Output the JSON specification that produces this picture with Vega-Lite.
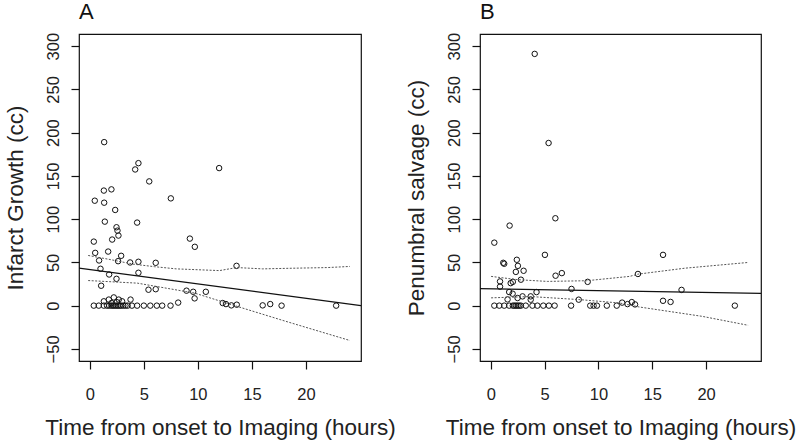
{
  "$schema": "https://vega.github.io/schema/vega-lite/v6.json",
  "background": "white",
  "padding": {"left": 3, "top": 0, "right": 5, "bottom": 5},
  "spacing": 119,
  "bounds": "flush",
  "datasets": {
    "a_pts": [
      {"x": 1.33, "y": 189}, {"x": 4.5, "y": 164.7}, {"x": 4.2, "y": 157.4}, {"x": 11.97, "y": 159},
      {"x": 5.5, "y": 143.6}, {"x": 1.3, "y": 133}, {"x": 2.0, "y": 134.4}, {"x": 7.5, "y": 124},
      {"x": 0.46, "y": 121.3}, {"x": 1.33, "y": 119}, {"x": 2.35, "y": 110.6}, {"x": 1.39, "y": 97.1},
      {"x": 4.38, "y": 96}, {"x": 2.47, "y": 90.6}, {"x": 2.56, "y": 86.7}, {"x": 2.65, "y": 81},
      {"x": 2.07, "y": 76.4}, {"x": 0.37, "y": 74}, {"x": 9.26, "y": 77.5}, {"x": 9.72, "y": 68},
      {"x": 0.5, "y": 61}, {"x": 1.7, "y": 62.5}, {"x": 2.9, "y": 57.6}, {"x": 0.86, "y": 52.2},
      {"x": 2.62, "y": 51.4}, {"x": 3.73, "y": 49.9}, {"x": 4.5, "y": 50.7}, {"x": 6.1, "y": 49.5},
      {"x": 0.99, "y": 42.6}, {"x": 4.5, "y": 38}, {"x": 1.79, "y": 36}, {"x": 2.47, "y": 31},
      {"x": 13.58, "y": 46}, {"x": 1.05, "y": 23}, {"x": 5.43, "y": 18.4}, {"x": 6.1, "y": 19},
      {"x": 8.95, "y": 17.3}, {"x": 9.57, "y": 16}, {"x": 10.74, "y": 16}, {"x": 9.7, "y": 8.4},
      {"x": 8.18, "y": 3.5}, {"x": 12.3, "y": 3}, {"x": 12.6, "y": 1.8}, {"x": 13.1, "y": 0.3},
      {"x": 13.6, "y": 1.1}, {"x": 16.0, "y": 0.3}, {"x": 16.7, "y": 1.8}, {"x": 17.75, "y": 0},
      {"x": 22.8, "y": 0},
      {"x": 1.3, "y": 5}, {"x": 1.76, "y": 7}, {"x": 2.22, "y": 9.5}, {"x": 2.68, "y": 7},
      {"x": 2.99, "y": 5}, {"x": 3.77, "y": 7}, {"x": 2.0, "y": 3}, {"x": 2.5, "y": 4},
      {"x": 0.37, "y": 0}, {"x": 0.83, "y": 0}, {"x": 1.3, "y": 0}, {"x": 1.6, "y": 0},
      {"x": 1.8, "y": 0}, {"x": 2.0, "y": 0}, {"x": 2.15, "y": 0}, {"x": 2.3, "y": 0},
      {"x": 2.45, "y": 0}, {"x": 2.6, "y": 0}, {"x": 2.75, "y": 0}, {"x": 2.9, "y": 0},
      {"x": 3.1, "y": 0}, {"x": 3.3, "y": 0}, {"x": 3.5, "y": 0}, {"x": 3.9, "y": 0},
      {"x": 4.38, "y": 0}, {"x": 5.0, "y": 0}, {"x": 5.6, "y": 0}, {"x": 6.2, "y": 0},
      {"x": 6.7, "y": 0}, {"x": 7.47, "y": 0}
    ],
    "b_pts": [
      {"x": 4.08, "y": 291}, {"x": 5.37, "y": 188}, {"x": 6.0, "y": 101}, {"x": 1.75, "y": 92.5},
      {"x": 0.33, "y": 72.8}, {"x": 5.03, "y": 58.7}, {"x": 16.0, "y": 58.7}, {"x": 1.16, "y": 49.5},
      {"x": 1.25, "y": 48.4}, {"x": 2.42, "y": 53}, {"x": 2.52, "y": 46}, {"x": 2.33, "y": 39},
      {"x": 3.05, "y": 40.3}, {"x": 6.6, "y": 37.6}, {"x": 6.02, "y": 34.6}, {"x": 13.67, "y": 36.6},
      {"x": 2.8, "y": 30}, {"x": 2.05, "y": 27.5}, {"x": 1.85, "y": 26}, {"x": 0.86, "y": 28},
      {"x": 0.86, "y": 22}, {"x": 9.0, "y": 27.5}, {"x": 7.5, "y": 19.3}, {"x": 17.72, "y": 18.2},
      {"x": 4.25, "y": 15.7}, {"x": 1.71, "y": 15.7}, {"x": 2.03, "y": 13.8}, {"x": 2.95, "y": 10.7},
      {"x": 3.71, "y": 10.7}, {"x": 3.71, "y": 6.9}, {"x": 1.56, "y": 7.2}, {"x": 2.49, "y": 8.8},
      {"x": 8.17, "y": 6.9}, {"x": 16.0, "y": 5.6}, {"x": 16.7, "y": 4.3}, {"x": 12.2, "y": 3.5},
      {"x": 12.7, "y": 1.8}, {"x": 13.1, "y": 4.1}, {"x": 13.4, "y": 1.4},
      {"x": 0.33, "y": 0}, {"x": 0.79, "y": 0}, {"x": 1.25, "y": 0}, {"x": 1.71, "y": 0},
      {"x": 2.05, "y": 0}, {"x": 2.2, "y": 0}, {"x": 2.35, "y": 0}, {"x": 2.5, "y": 0},
      {"x": 2.65, "y": 0}, {"x": 2.8, "y": 0}, {"x": 3.25, "y": 0}, {"x": 3.87, "y": 0},
      {"x": 4.33, "y": 0}, {"x": 4.88, "y": 0}, {"x": 5.4, "y": 0}, {"x": 5.93, "y": 0},
      {"x": 7.46, "y": 0}, {"x": 9.24, "y": 0}, {"x": 9.55, "y": 0}, {"x": 9.86, "y": 0},
      {"x": 10.78, "y": 0}, {"x": 11.7, "y": 0}, {"x": 22.67, "y": 0}
    ],
    "a_fit": [{"x": -1, "y": 43.3}, {"x": 25.1, "y": 0}],
    "b_fit": [{"x": -1, "y": 19.6}, {"x": 25.1, "y": 14.2}],
    "a_ci": [
      {"band": "upper", "x": -0.15, "y": 58}, {"band": "upper", "x": 2, "y": 53}, {"band": "upper", "x": 4, "y": 48},
      {"band": "upper", "x": 6, "y": 45}, {"band": "upper", "x": 8, "y": 42.5}, {"band": "upper", "x": 10, "y": 41.5},
      {"band": "upper", "x": 12, "y": 40.5}, {"band": "upper", "x": 13.6, "y": 44}, {"band": "upper", "x": 16, "y": 42.5},
      {"band": "upper", "x": 19, "y": 43.3}, {"band": "upper", "x": 22, "y": 44}, {"band": "upper", "x": 24.07, "y": 45.3},
      {"band": "lower", "x": -0.15, "y": 29}, {"band": "lower", "x": 4.4, "y": 26}, {"band": "lower", "x": 9.7, "y": 14.5},
      {"band": "lower", "x": 13.8, "y": -1.5}, {"band": "lower", "x": 18.1, "y": -18}, {"band": "lower", "x": 24.07, "y": -40.3}
    ],
    "b_ci": [
      {"band": "upper", "x": 0.03, "y": 33.8}, {"band": "upper", "x": 2.5, "y": 30}, {"band": "upper", "x": 5.25, "y": 28},
      {"band": "upper", "x": 8.9, "y": 28.8}, {"band": "upper", "x": 12.9, "y": 33.8}, {"band": "upper", "x": 13.67, "y": 36.4},
      {"band": "upper", "x": 18.05, "y": 43.3}, {"band": "upper", "x": 23.9, "y": 49.9},
      {"band": "lower", "x": 0.03, "y": 9}, {"band": "lower", "x": 3.71, "y": 10.5}, {"band": "lower", "x": 8.3, "y": 6.9},
      {"band": "lower", "x": 12.0, "y": 3}, {"band": "lower", "x": 13.76, "y": -1.5}, {"band": "lower", "x": 19.6, "y": -12.3},
      {"band": "lower", "x": 23.9, "y": -22.7}
    ]
  },
  "config": {
    "font": "Liberation Sans",
    "view": {"stroke": "#111", "strokeWidth": 1.2},
    "axis": {
      "grid": false,
      "domain": false,
      "ticks": true,
      "tickColor": "#111",
      "tickSize": 8,
      "tickWidth": 1.2,
      "labelFont": "Liberation Sans",
      "labelFontSize": 16.5,
      "labelColor": "#222",
      "titleFont": "Liberation Sans",
      "titleFontSize": 22.5,
      "titleFontWeight": "normal",
      "titleColor": "#222"
    },
    "title": {"font": "Liberation Sans", "fontSize": 22, "fontWeight": "normal", "color": "#111", "anchor": "start", "frame": "group", "offset": 8}
  },
  "hconcat": [
    {
      "title": "A",
      "width": 282,
      "height": 327,
      "layer": [
        {
          "data": {"name": "a_pts"},
          "mark": {"type": "point", "shape": "circle", "filled": false, "stroke": "#111", "strokeWidth": 1, "size": 30, "opacity": 1},
          "encoding": {
            "x": {"field": "x", "type": "quantitative", "scale": {"domain": [-1, 25.1], "nice": false, "zero": false},
                  "axis": {"values": [0, 5, 10, 15, 20], "title": "Time from onset to Imaging (hours)", "labelPadding": 17, "titlePadding": 14}},
            "y": {"field": "y", "type": "quantitative", "scale": {"domain": [-64, 314], "nice": false, "zero": false},
                  "axis": {"values": [-50, 0, 50, 100, 150, 200, 250, 300], "title": "Infarct Growth (cc)", "labelAngle": -90, "labelPadding": 10, "titlePadding": 18}}
          }
        },
        {
          "data": {"name": "a_fit"},
          "mark": {"type": "line", "color": "#111", "strokeWidth": 1.2, "clip": true},
          "encoding": {"x": {"field": "x", "type": "quantitative"}, "y": {"field": "y", "type": "quantitative"}}
        },
        {
          "data": {"name": "a_ci"},
          "mark": {"type": "line", "color": "#555", "strokeWidth": 1, "strokeDash": [2, 1.5], "clip": true},
          "encoding": {"x": {"field": "x", "type": "quantitative"}, "y": {"field": "y", "type": "quantitative"}, "detail": {"field": "band"}}
        }
      ]
    },
    {
      "title": "B",
      "width": 281,
      "height": 327,
      "layer": [
        {
          "data": {"name": "b_pts"},
          "mark": {"type": "point", "shape": "circle", "filled": false, "stroke": "#111", "strokeWidth": 1, "size": 30, "opacity": 1},
          "encoding": {
            "x": {"field": "x", "type": "quantitative", "scale": {"domain": [-1, 25.1], "nice": false, "zero": false},
                  "axis": {"values": [0, 5, 10, 15, 20], "title": "Time from onset to Imaging (hours)", "labelPadding": 17, "titlePadding": 14}},
            "y": {"field": "y", "type": "quantitative", "scale": {"domain": [-64, 314], "nice": false, "zero": false},
                  "axis": {"values": [-50, 0, 50, 100, 150, 200, 250, 300], "title": "Penumbral salvage (cc)", "labelAngle": -90, "labelPadding": 10, "titlePadding": 18}}
          }
        },
        {
          "data": {"name": "b_fit"},
          "mark": {"type": "line", "color": "#111", "strokeWidth": 1.2, "clip": true},
          "encoding": {"x": {"field": "x", "type": "quantitative"}, "y": {"field": "y", "type": "quantitative"}}
        },
        {
          "data": {"name": "b_ci"},
          "mark": {"type": "line", "color": "#555", "strokeWidth": 1, "strokeDash": [2, 1.5], "clip": true},
          "encoding": {"x": {"field": "x", "type": "quantitative"}, "y": {"field": "y", "type": "quantitative"}, "detail": {"field": "band"}}
        }
      ]
    }
  ]
}
